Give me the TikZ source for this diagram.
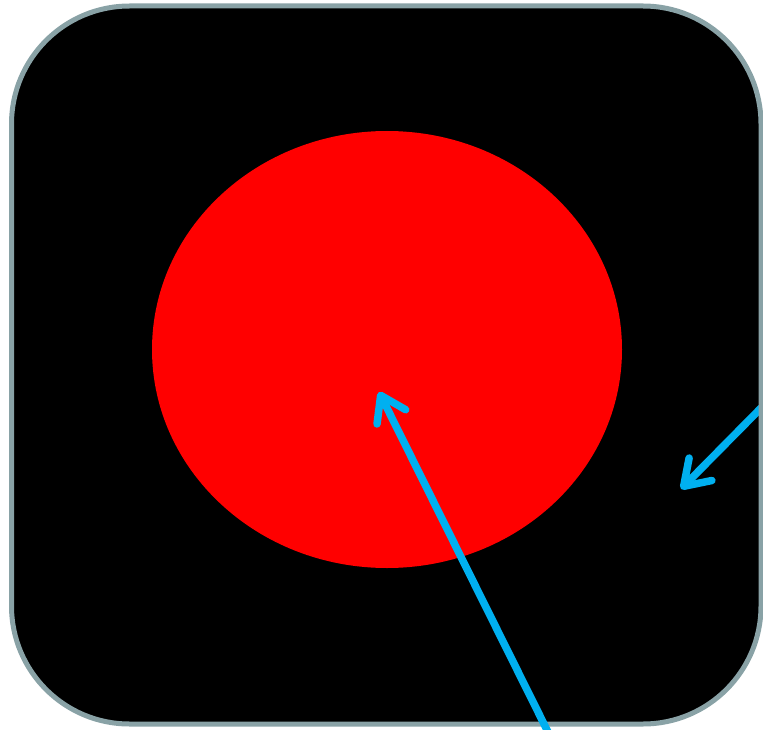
\documentclass[tikz,border=0pt]{standalone}
\usepackage{tikz}
\usepackage{xcolor}
\usetikzlibrary{arrows.meta, positioning, shapes.geometric}

\definecolor{panelgray}{HTML}{89A2A6}
\definecolor{pointerblue}{HTML}{00B0F0}

\begin{document}
\begin{tikzpicture}[x=1pt, y=-1pt,
        panel/.style={line width=5pt, rounded corners=118pt},
        pointer/.style={draw=pointerblue, line width=7.5pt, line cap=round,
            -{Straight Barb[length=24pt, width=32pt, line cap=round, line join=round]}}]
        \useasboundingbox (0,0) rectangle (763,730);
        \fill[panel, black] (11.5,6) rectangle (761,724);
        \node[ellipse, fill=red, minimum width=470pt, minimum height=437pt, inner sep=0pt] (disc) at (387,349.5) {};
        \coordinate (tailA) at (549,734);
        \coordinate (tipA) at (379,392);
        \coordinate (tailB) at (761,408);
        \coordinate (tipB) at (681,489);
        \draw[pointer] (tailB) -- (tipB);
        % border goes over the right pointer, under the lower one
        \draw[panel, panelgray] (11.5,6) rectangle (761,724);
        \draw[pointer] (tailA) -- (tipA);
    \end{tikzpicture}
\end{document}
